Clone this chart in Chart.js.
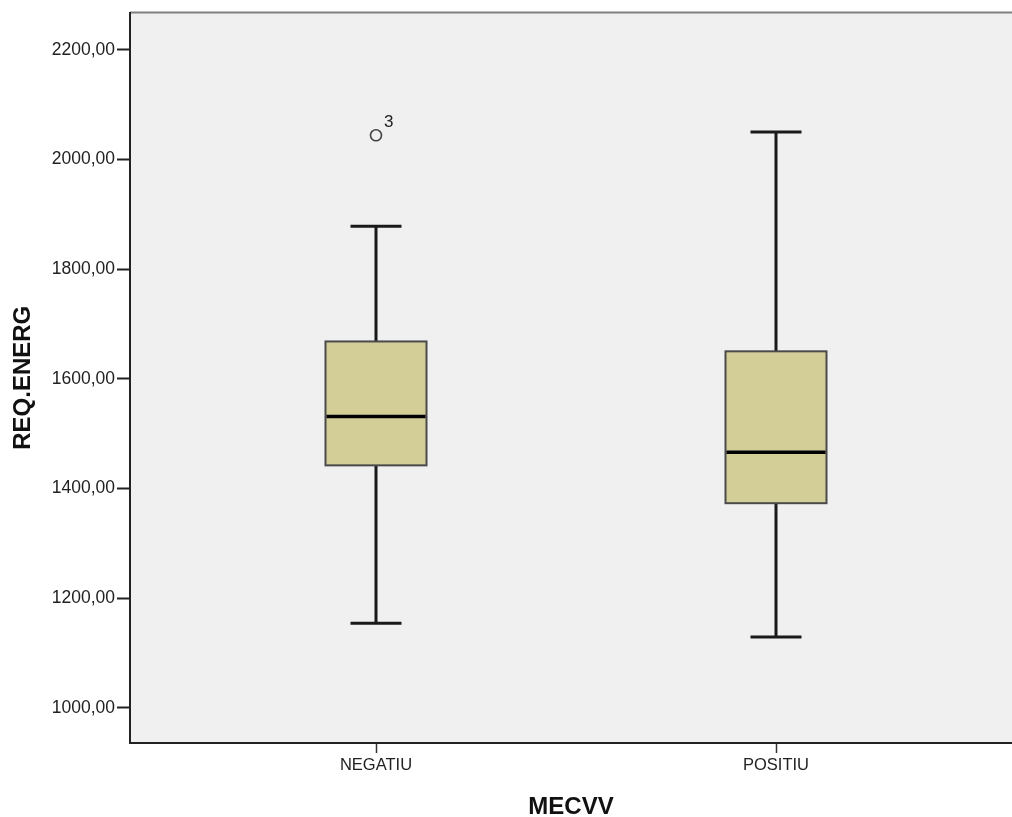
<!DOCTYPE html>
<html>
<head>
<meta charset="utf-8">
<script src="https://cdn.jsdelivr.net/npm/chart.js@4/dist/chart.umd.min.js"></script>
<style>
  html, body { margin: 0; padding: 0; background: #fff; overflow: hidden; }
  canvas { display: block; }
</style>
</head>
<body>
<canvas id="boxChart" width="1012" height="817"></canvas>
<script>
// values
const categories = ['NEGATIU', 'POSITIU'];
const whiskerLow = [1154, 1129];
const q1 = [1442, 1373];
const medians = [1531, 1466];
const q3 = [1668, 1650];
const whiskerHigh = [1878, 2050];
const outlierCat = [0];
const outlierValue = [2044];
const outlierLabel = ['3'];
const yTicks = [1000, 1200, 1400, 1600, 1800, 2000, 2200];

const plotBg = {
    id: 'plotBg',
    beforeDraw(chart) {
        const { ctx, chartArea: a } = chart;
        ctx.save();
        ctx.fillStyle = '#f0f0f0';
        ctx.fillRect(a.left, a.top, a.right - a.left, a.bottom - a.top);
        // top frame line
        ctx.strokeStyle = '#808080';
        ctx.lineWidth = 2;
        ctx.beginPath();
        ctx.moveTo(a.left, a.top);
        ctx.lineTo(a.right, a.top);
        ctx.stroke();
        ctx.restore();
    }
};

const boxPlot = {
    id: 'boxPlot',
    beforeDatasetsDraw(chart) {
        const { ctx, scales: { x, y } } = chart;
        const boxW = 101, capW = 51;
        ctx.save();
        categories.forEach((c, i) => {
            const cx = x.getPixelForValue(i);
            const yLo = y.getPixelForValue(whiskerLow[i]);
            const yQ1 = y.getPixelForValue(q1[i]);
            const yMed = y.getPixelForValue(medians[i]);
            const yQ3 = y.getPixelForValue(q3[i]);
            const yHi = y.getPixelForValue(whiskerHigh[i]);

            // whiskers
            ctx.strokeStyle = '#1a1a1a';
            ctx.lineWidth = 3;
            ctx.beginPath();
            ctx.moveTo(cx, yQ3); ctx.lineTo(cx, yHi);
            ctx.moveTo(cx, yQ1); ctx.lineTo(cx, yLo);
            ctx.moveTo(cx - capW / 2, yHi); ctx.lineTo(cx + capW / 2, yHi);
            ctx.moveTo(cx - capW / 2, yLo); ctx.lineTo(cx + capW / 2, yLo);
            ctx.stroke();

            // box
            ctx.fillStyle = '#d3ce98';
            ctx.fillRect(cx - boxW / 2, yQ3, boxW, yQ1 - yQ3);
            ctx.strokeStyle = '#4a4a4a';
            ctx.lineWidth = 2;
            ctx.strokeRect(cx - boxW / 2, yQ3, boxW, yQ1 - yQ3);

            // median
            ctx.strokeStyle = '#000';
            ctx.lineWidth = 3.5;
            ctx.beginPath();
            ctx.moveTo(cx - boxW / 2 + 1, yMed);
            ctx.lineTo(cx + boxW / 2 - 1, yMed);
            ctx.stroke();
        });
        ctx.restore();
    },
    afterDatasetsDraw(chart) {
        const { ctx, scales: { x, y } } = chart;
        ctx.save();
        ctx.fillStyle = '#222';
        ctx.font = '17px "Liberation Sans", Arial, sans-serif';
        ctx.textAlign = 'left';
        ctx.textBaseline = 'middle';
        outlierLabel.forEach((t, i) => {
            const px = x.getPixelForValue(outlierCat[i]);
            const py = y.getPixelForValue(outlierValue[i]);
            ctx.fillText(t, px + 8, py - 13);
        });
        ctx.restore();
    }
};

const tickFont = { family: '"Liberation Sans", Arial, sans-serif', size: 17.5 };

new Chart(document.getElementById('boxChart'), {
    type: 'scatter',
    data: {
        datasets: [{
            label: 'outliers',
            data: outlierCat.map((c, i) => ({ x: c, y: outlierValue[i] })),
            pointStyle: 'circle',
            radius: 5.5,
            borderColor: '#444',
            borderWidth: 1.6,
            backgroundColor: 'rgba(0,0,0,0)'
        }]
    },
    options: {
        responsive: false,
        animation: false,
        layout: { autoPadding: false, padding: { top: 12, right: 0, left: 0, bottom: 0 } },
        plugins: {
            legend: { display: false },
            tooltip: { enabled: false }
        },
        scales: {
            x: {
                type: 'linear',
                min: -0.615,
                max: 1.59,
                afterBuildTicks: (s) => { s.ticks = categories.map((c, i) => ({ value: i })); },
                afterFit: (s) => { s.height = 74; },
                ticks: {
                    callback: (v) => categories[v],
                    color: '#222',
                    font: { family: tickFont.family, size: 16.5 },
                    padding: 3,
                    maxRotation: 0
                },
                grid: { drawOnChartArea: false, drawTicks: true, tickLength: 10, tickColor: '#333', tickWidth: 1.5 },
                border: { display: true, color: '#222', width: 2 },
                title: {
                    display: true,
                    text: 'MECVV',
                    color: '#111',
                    font: { family: tickFont.family, size: 24, weight: 'bold', lineHeight: 1 },
                    padding: { top: 0, bottom: -2 }
                }
            },
            y: {
                min: 935.6,
                max: 2268,
                afterBuildTicks: (s) => { s.ticks = yTicks.map(v => ({ value: v })); },
                afterFit: (s) => { s.width = 130; },
                ticks: {
                    callback: (v) => v.toFixed(2).replace('.', ','),
                    color: '#222',
                    font: tickFont,
                    padding: 2
                },
                grid: { drawOnChartArea: false, drawTicks: true, tickLength: 13, tickColor: '#222', tickWidth: 2 },
                border: { display: true, color: '#222', width: 2 },
                title: {
                    display: true,
                    text: 'REQ.ENERG',
                    color: '#111',
                    font: { family: tickFont.family, size: 24, weight: 'bold', lineHeight: 1 },
                    padding: { top: 11, bottom: 0 }
                }
            }
        }
    },
    plugins: [plotBg, boxPlot]
});
</script>
</body>
</html>
